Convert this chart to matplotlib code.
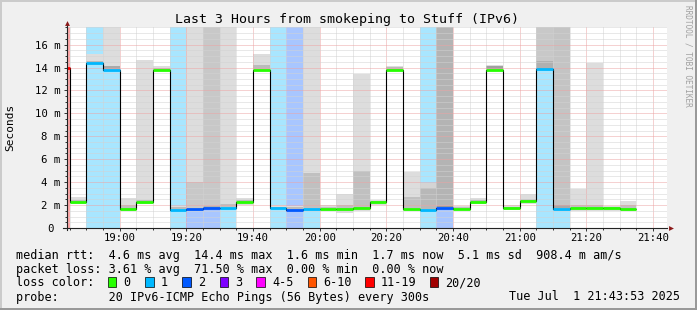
import matplotlib
matplotlib.use("Agg")
import matplotlib.pyplot as plt
from matplotlib.patches import Rectangle
from matplotlib.ticker import MultipleLocator

# 5-minute bins, start of each bin in minutes after 19:00
bin_start = list(range(-20, 155, 5))
median_ms = [14.0, 2.28, 14.4, 13.8, 1.65, 2.28, 13.8, 1.6, 1.66, 1.72,
             1.74, 2.27, 13.8, 1.72, 1.6, 1.69, 1.7, 1.69, 1.72, 2.25,
             13.8, 1.69, 1.6, 1.75, 1.69, 2.3, 13.8, 1.75, 2.37, 13.85,
             1.65, 1.75, 1.75, 1.72, 1.69]
loss_pings = [14, 0, 1, 1, 0, 0, 0, 1, 2, 2,
              1, 0, 0, 1, 2, 1, 0, 0, 0, 0,
              0, 0, 1, 2, 0, 0, 0, 0, 0, 1,
              1, 0, 0, 0, 0]
# outer smoke band (all pings) and inner band (pings near the median)
smoke_lo = [None, 2.1, 14.2, 13.7, 1.48, 2.07, 13.7, 1.62, 1.7, 1.75,
            1.78, 2.05, 13.7, 1.75, 1.62, 1.72, 1.5, 1.34, 1.5, 2.05,
            13.7, 1.5, 1.65, 1.8, 1.55, 2.1, 13.7, 1.6, 2.1, 13.85,
            1.7, 1.45, 1.5, 1.5, 1.45]
smoke_hi = [None, 2.7, 15.2, 18.0, 2.6, 14.7, 14.1, 1.95, 18.0, 18.0,
            18.0, 2.6, 15.2, 2.0, 1.95, 18.0, 2.0, 2.94, 13.4, 2.45,
            14.15, 4.9, 3.95, 18.0, 1.95, 2.6, 14.2, 2.0, 2.94, 18.0,
            18.0, 3.37, 14.37, 1.95, 2.38]
smoke_tone = ["#dddddd"] * 9 + ["#c8c8c8"] + ["#dddddd"] * 12 + ["#d4d4d4", "#b4b4b4"] \
    + ["#dddddd"] * 5 + ["#c8c8c8", "#c4c4c4"] + ["#dddddd"] * 4
core_lo = [None, 2.2, 14.3, 13.85, 1.7, 2.25, 13.8, 1.65, 1.72, 1.75,
           1.8, 2.2, 13.85, 1.75, 1.65, 1.75, 1.65, 1.7, 1.75, 2.2,
           13.8, 1.75, 1.7, 1.8, 1.65, 2.25, 13.85, 1.7, 2.3, 13.9,
           1.75, 1.75, 1.75, 1.65, 1.7]
core_hi = [None, 2.45, 14.55, 14.1, 2.0, 2.45, 14.0, 1.8, 4.0, 1.95,
           2.1, 2.4, 14.2, 1.85, 1.8, 4.77, 1.85, 2.0, 4.95, 2.35,
           14.05, 2.7, 3.45, 1.95, 1.8, 2.4, 14.15, 1.85, 2.5, 14.6,
           2.0, 2.0, 2.0, 1.8, 2.0]
core_tone = ["#bbbbbb", "#bbbbbb", "#bbbbbb", "#aaaaaa", "#c0c0c0", "#bbbbbb", "#bbbbbb",
             "#bbbbbb", "#c8c8c8", "#b0b0b0", "#c0c0c0", "#bbbbbb", "#bbbbbb", "#bbbbbb",
             "#bbbbbb", "#c0c0c0", "#c0c0c0", "#c0c0c0", "#c0c0c0", "#bbbbbb", "#bbbbbb",
             "#c0c0c0", "#b8b8b8", "#999999", "#c0c0c0", "#bbbbbb", "#a0a0a0", "#c0c0c0",
             "#c0c0c0", "#b0b0b0", "#a8a8a8", "#c0c0c0", "#c0c0c0", "#c0c0c0", "#c0c0c0"]

x_ticks = [0, 20, 40, 60, 80, 100, 120, 140, 160]
x_labels = ["19:00", "19:20", "19:40", "20:00", "20:20", "20:40", "21:00", "21:20", "21:40"]
y_ticks = [0, 2, 4, 6, 8, 10, 12, 14, 16]
y_labels = ["0 ", "2 m", "4 m", "6 m", "8 m", "10 m", "12 m", "14 m", "16 m"]

legend_labels = ["0", "1", "2", "3", "4-5", "6-10", "11-19", "20/20"]
legend_colors = ["#26ff00", "#00b8ff", "#0059ff", "#7e00ff", "#ff00ff", "#ff5500", "#ff0000", "#a10000"]
legend_box_x = [108, 145.3, 182.2, 219.6, 256.4, 307.6, 365.3, 429.8]

stats_rtt = "median rtt:  4.6 ms avg  14.4 ms max  1.6 ms min  1.7 ms now  5.1 ms sd  908.4 m am/s"
stats_loss = "packet loss: 3.61 % avg  71.50 % max  0.00 % min  0.00 % now"
probe_txt = "probe:       20 IPv6-ICMP Echo Pings (56 Bytes) every 300s"
stamp_txt = "Tue Jul  1 21:43:53 2025"

W, H = 697, 310


def loss_color(n):
    if n <= 3:
        return legend_colors[n]
    if n <= 5:
        return legend_colors[4]
    if n <= 10:
        return legend_colors[5]
    if n <= 19:
        return legend_colors[6]
    return legend_colors[7]


def px(x, y):
    return x / W, 1 - y / H


plt.rcParams["font.family"] = "DejaVu Sans Mono"
fig = plt.figure(figsize=(W / 100, H / 100), dpi=100, facecolor="#f0f0f0")

# frame
for x0, y0, w, h, c in [(0, 0, W, 2, "#cbcbcb"), (0, 0, 2, H, "#cbcbcb"),
                        (0, H - 2, W, 2, "#999999"), (W - 2, 0, 2, H, "#999999")]:
    fig.add_artist(Rectangle(px(x0, y0 + h), w / W, h / H, transform=fig.transFigure,
                             color=c, lw=0))

ax = fig.add_axes([66.7 / W, 82 / H, 600.6 / W, 200.7 / H])
ax.set_facecolor("white")
ax.set_xlim(-15.9, 164.28)
ax.set_ylim(0, 17.51)

for i, s in enumerate(bin_start):
    if loss_pings[i] > 0:
        ax.axvspan(s, s + 5, color=loss_color(loss_pings[i]), alpha=0.34, lw=0, zorder=1)
    if smoke_lo[i] is not None:
        ax.bar(s, smoke_hi[i] - smoke_lo[i], bottom=smoke_lo[i], width=5, align="edge",
               color=smoke_tone[i], lw=0, zorder=1.3)
        ax.bar(s, core_hi[i] - core_lo[i], bottom=core_lo[i], width=5, align="edge",
               color=core_tone[i], lw=0, zorder=1.4)

edges = bin_start + [bin_start[-1] + 5]
ax.stairs(median_ms, edges, baseline=None, color="black", lw=0.8, zorder=3)
ax.hlines(median_ms, bin_start, [s + 5 for s in bin_start],
          colors=[loss_color(n) for n in loss_pings], lw=2.0, zorder=4)

ax.set_axisbelow(False)
ax.set_xticks(x_ticks, labels=x_labels)
ax.set_yticks(y_ticks, labels=y_labels)
ax.xaxis.set_minor_locator(MultipleLocator(5))
ax.yaxis.set_minor_locator(MultipleLocator(0.5))
ax.grid(which="major", color="#eda4a4", linestyle=(0, (1, 1)), lw=0.72)
ax.grid(which="minor", color="#d2d2d2", linestyle=(0, (1, 1)), lw=0.72)
ax.tick_params(which="major", length=2.2, width=0.7, color="#333333", labelsize=7.7, pad=2.2)
ax.tick_params(axis="x", which="major", pad=1.2)
ax.tick_params(which="minor", length=1.2, width=0.7, color="#333333")
for sp in ax.spines.values():
    sp.set_visible(False)

# axes with arrows
ax.plot([-0.006, 1.0], [0, 0], transform=ax.transAxes, color="#222222", lw=0.8,
        clip_on=False, zorder=5)
ax.plot([0, 0], [-0.012, 1.015], transform=ax.transAxes, color="#222222", lw=0.8,
        clip_on=False, zorder=5)
ax.plot([1.006], [0], marker=">", ms=3.5, color="#8b1a1a", mew=0, transform=ax.transAxes,
        clip_on=False, zorder=6)
ax.plot([0], [1.02], marker="^", ms=3.5, color="#8b1a1a", mew=0, transform=ax.transAxes,
        clip_on=False, zorder=6)

fig.text(*px(346.7, 19), "Last 3 Hours from smokeping to Stuff (IPv6)", ha="center",
         va="center", fontsize=9.5)
fig.text(*px(10.5, 127), "Seconds", rotation=90, ha="center", va="center", fontsize=8)
fig.text(*px(688, 5), "RRDTOOL / TOBI OETIKER", rotation=270, ha="center", va="top",
         fontsize=5.6, color="#a0a0a0")

fs = 8.45
fig.text(*px(16, 258.5), stats_rtt, ha="left", va="baseline", fontsize=fs)
fig.text(*px(16, 272.5), stats_loss, ha="left", va="baseline", fontsize=fs)
fig.text(*px(16, 286.5), "loss color:", ha="left", va="baseline", fontsize=fs)
for bx, lab, col in zip(legend_box_x, legend_labels, legend_colors):
    fig.add_artist(Rectangle(px(bx, 286.7), 8.4 / W, 9.4 / H, transform=fig.transFigure,
                             facecolor=col, edgecolor="black", lw=0.5))
    fig.text(*px(bx + 15.5, 286.5), lab, ha="left", va="baseline", fontsize=fs)
fig.text(*px(16, 300.5), probe_txt, ha="left", va="baseline", fontsize=fs)
fig.text(*px(680, 300.5), stamp_txt, ha="right", va="baseline", fontsize=fs)

fig.savefig("out.png", dpi=100, facecolor=fig.get_facecolor())
